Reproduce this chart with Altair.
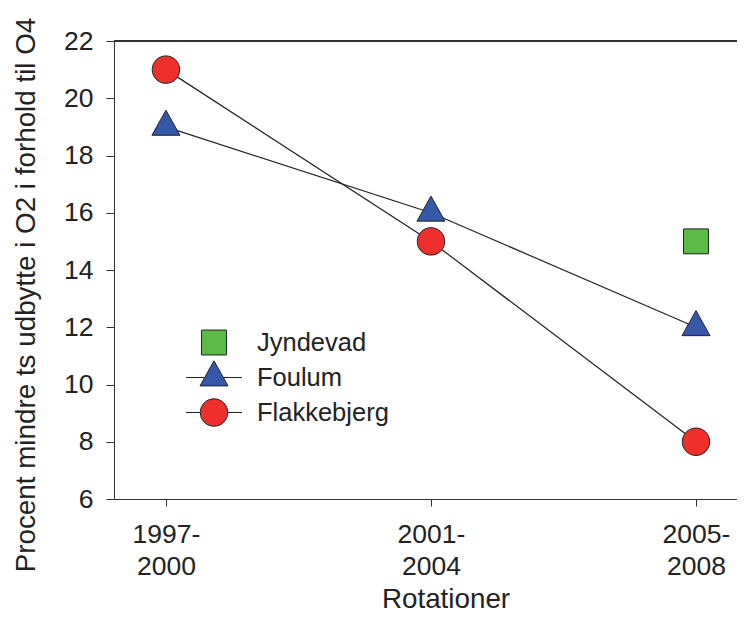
import json
import altair as alt
import pandas as pd

# ---- data ----
periods = ["1997-2000", "2001-2004", "2005-2008"]
period_lines = [["1997-", "2000"], ["2001-", "2004"], ["2005-", "2008"]]
series_names = ["Jyndevad", "Foulum", "Flakkebjerg"]
jyndevad = [None, None, 15]
foulum = [19, 16, 12]
flakkebjerg = [21, 15, 8]
y_ticks = [6, 8, 10, 12, 14, 16, 18, 20, 22]
colors = ["#5cbb47", "#3558a8", "#ee2f2b"]

rows = []
for name, vals in zip(series_names, [jyndevad, foulum, flakkebjerg]):
    for i, v in enumerate(vals):
        if v is not None:
            rows.append({"serie": name, "idx": i, "periode": periods[i], "val": v})
df = pd.DataFrame(rows)

# symbol paths (unit = sqrt(size)/2)
sq = "M-0.89,-0.89L0.89,-0.89L0.89,0.89L-0.89,0.89Z"
tri = "M0,-1.19L1,0.6L-1,0.6Z"
circ = "M0.98,0A0.98,0.98 0 1,1 -0.98,0A0.98,0.98 0 1,1 0.98,0Z"
plot_shapes = [sq, tri, circ]
pad = "M0,-1.19M0,0.98"  # equal legend-row bounds (no visible ink)
sq_leg = pad + sq
tri_leg = pad + "M-2,0L-0.665,0M0.665,0L2,0" + tri
circ_leg = pad + "M-2,0L-0.98,0M0.98,0L2,0" + circ
legend_shapes = [sq_leg, tri_leg, circ_leg]

W, H = 623, 458
FONT = "Liberation Sans"

x_enc = alt.X(
    "idx:Q",
    scale=alt.Scale(domain=[-0.196, 2.1547], nice=False, zero=False),
    axis=alt.Axis(
        title="Rotationer",
        values=[0, 1, 2],
        labelExpr=json.dumps(period_lines) + "[datum.value]",
        labelLineHeight=32,
        labelBaseline="alphabetic",
        labelPadding=36,
        tickSize=7,
        titleX=331.5,
        titleY=108,
        titleBaseline="alphabetic",
        titleAlign="center",
    ),
)
y_enc = alt.Y(
    "val:Q",
    scale=alt.Scale(domain=[6, 22], nice=False, zero=False),
    axis=alt.Axis(
        title="Procent mindre ts udbytte i O2 i forhold til O4",
        values=y_ticks,
        tickSize=8,
        labelPadding=13,
        titleAngle=270,
        titleX=-80,
        titleY=253.5,
        titleAlign="center",
        titleBaseline="alphabetic",
    ),
)

lines = alt.Chart(df).mark_line(color="#222222", strokeWidth=1.2).encode(
    x=x_enc, y=y_enc, detail="serie:N", order="idx:Q"
)

point_layers = []
for name, shp, col in zip(series_names, plot_shapes, colors):
    point_layers.append(
        alt.Chart(df)
        .transform_filter(alt.datum.serie == name)
        .mark_point(
            filled=True, shape=shp, size=784, fill=col,
            stroke="#222222", strokeWidth=1, opacity=1,
        )
        .encode(x=x_enc, y=y_enc)
    )

leg = alt.Legend(
    title=None,
    orient="none",
    legendX=85.5,
    legendY=287,
    symbolSize=784,
    symbolStrokeColor="#222222",
    symbolStrokeWidth=1,
    symbolOpacity=1,
    labelFontSize=25.5,
    labelFont=FONT,
    labelColor="#222222",
    labelOffset=28.5,
    rowPadding=-1,
    padding=0,
)

legend_layer = alt.Chart(df).transform_filter("false").mark_point(
    filled=True, size=784, strokeWidth=1, opacity=1
).encode(
    x=x_enc,
    y=y_enc,
    fill=alt.Fill("serie:N", scale=alt.Scale(domain=series_names, range=colors), legend=leg),
    stroke=alt.Stroke(
        "serie:N",
        scale=alt.Scale(domain=series_names, range=["#222222", "#222222", "#222222"]),
        legend=leg,
    ),
    shape=alt.Shape(
        "serie:N",
        scale=alt.Scale(domain=series_names, range=legend_shapes),
        legend=leg,
    ),
)

top_line = alt.Chart(df).mark_rule(color="#333333", strokeWidth=1.5).encode(
    x=alt.value(0), x2=alt.value(W), y=alt.value(0)
)

chart = (
    alt.layer(lines, *point_layers, legend_layer, top_line)
    .properties(
        width=W,
        height=H,
        autosize=alt.AutoSizeParams(type="none"),
        padding={"left": 106, "top": 33, "right": 0, "bottom": 116},
    )
    .configure_view(stroke=None)
    .configure_axis(
        grid=False,
        domainColor="#333333",
        tickColor="#333333",
        domainWidth=1,
        tickWidth=1,
        labelFont=FONT,
        labelFontSize=26.5,
        labelColor="#222222",
        titleFont=FONT,
        titleFontSize=27.8,
        titleFontWeight="normal",
        titleColor="#222222",
    )
)

chart.save("out.html", embed_options={"renderer": "svg", "actions": False})
